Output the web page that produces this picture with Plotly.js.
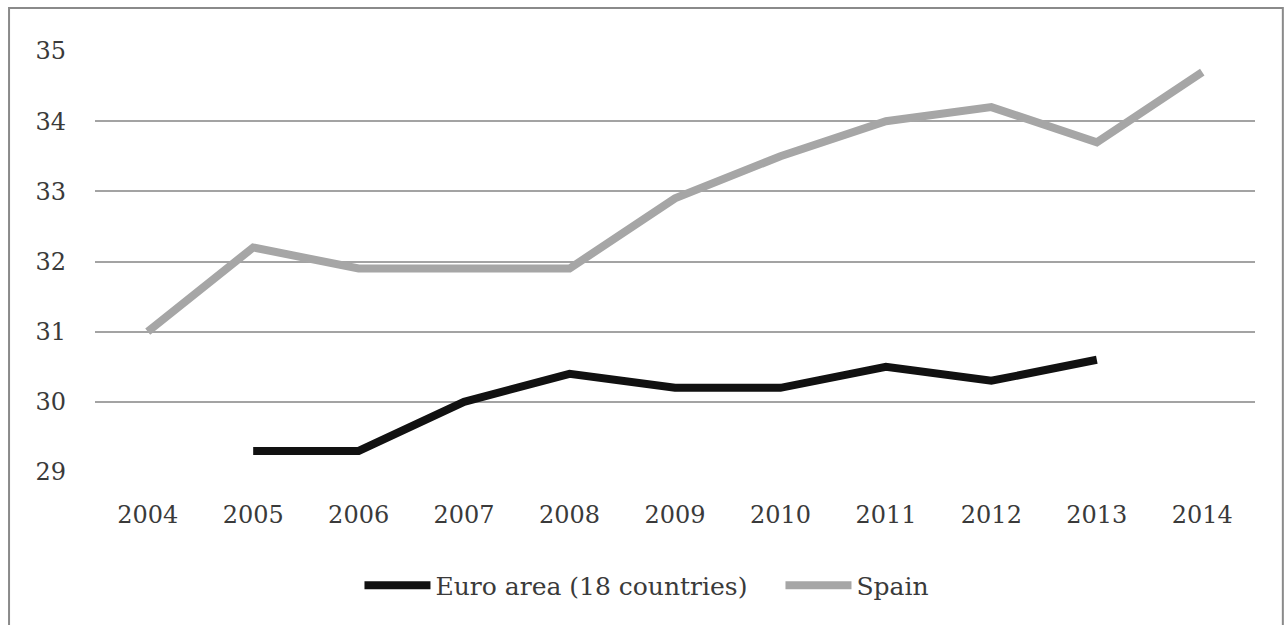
<!DOCTYPE html>
<html><head><meta charset="utf-8">
<script src="https://cdn.plot.ly/plotly-3.0.1.min.js"></script>
<style>body{margin:0;background:#fff}#c{width:1285px;height:625px}</style>
</head><body><div id="c"></div>
<script>
const years = ["2004","2005","2006","2007","2008","2009","2010","2011","2012","2013","2014"];
const euroYears = ["2005","2006","2007","2008","2009","2010","2011","2012","2013"];
const euroValues = [29.3,29.3,30.0,30.4,30.2,30.2,30.5,30.3,30.6];
const spainValues = [31.0,32.2,31.9,31.9,31.9,32.9,33.5,34.0,34.2,33.7,34.7];
const yTicks = [29,30,31,32,33,34,35];

const font = {family:"DejaVu Serif, Liberation Serif, serif", size:24, color:"#3a3a3a"};
const legendFont = {family:"DejaVu Serif, Liberation Serif, serif", size:25, color:"#3a3a3a"};
const traces = [
  {x:euroYears, y:euroValues, name:"Euro area (18 countries)", mode:"lines", line:{color:"#111111", width:8}},
  {x:years, y:spainValues, name:"Spain", mode:"lines", line:{color:"#a6a6a6", width:8}}
];
const layout = {
  width:1285, height:625,
  margin:{l:95, r:30, t:51, b:153},
  paper_bgcolor:"#fff", plot_bgcolor:"#fff",
  font:font,
  showlegend:true,
  legend:{orientation:"h", x:0.228, xanchor:"left", y:-0.215, yanchor:"top", itemwidth:66, entrywidth:340, font:legendFont, tracegroupgap:0},
  xaxis:{type:"category", categoryorder:"array", categoryarray:years, range:[-0.5,10.5], showgrid:false, zeroline:false, showline:false, ticks:"", ticklabelstandoff:26, tickfont:font},
  yaxis:{range:[29,35], tickvals:yTicks, showgrid:true, gridcolor:"#a3a3a3", gridwidth:2, zeroline:false, showline:false, ticks:"", ticklabelstandoff:28, tickfont:font},
  shapes:[{type:"rect", xref:"paper", yref:"paper", x0:-0.0741, x1:1.024, y0:-0.45, y1:1.102, line:{color:"#8a8a8a", width:2}, fillcolor:"rgba(0,0,0,0)"}]
};
Plotly.newPlot("c", traces, layout, {displayModeBar:false, staticPlot:true});
</script></body></html>
